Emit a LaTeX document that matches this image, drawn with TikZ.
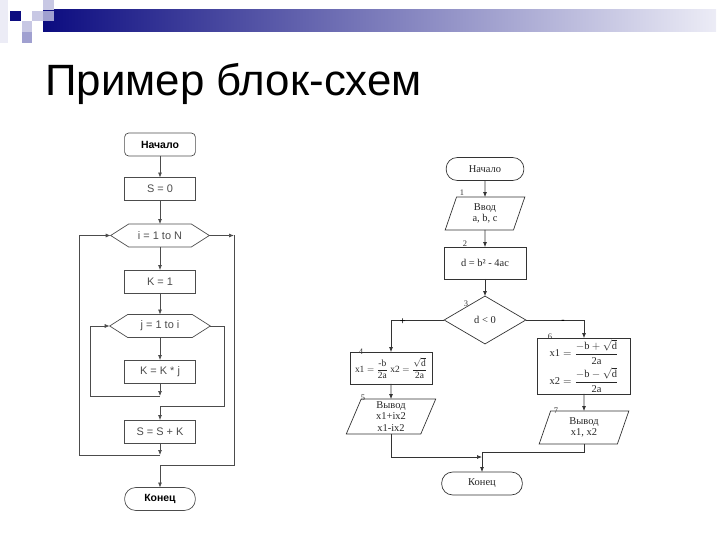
\documentclass[tikz,border=0pt]{standalone}
\usepackage{amsmath}
\usepackage{fontspec}
\setmainfont{Liberation Sans}
\newfontfamily\timesfont{Liberation Serif}
\usetikzlibrary{arrows.meta,shapes.geometric}

\definecolor{navy}{RGB}{12,12,128}
\definecolor{lavlight}{RGB}{200,200,228}
\definecolor{lavmid}{RGB}{160,160,208}
\definecolor{lavpale}{RGB}{236,236,246}

%hexagon drawn round a node
\newcommand{\hexframe}[1]{%
  \draw[line] (#1.west) -- ([xshift=18pt]#1.north west) -- ([xshift=-18pt]#1.north east)
   -- (#1.east) -- ([xshift=-18pt]#1.south east) -- ([xshift=18pt]#1.south west) -- cycle;}

\begin{document}
\begin{tikzpicture}[x=1bp,y=-1bp,
  line/.style={draw=black!70,line width=0.7pt},
  arr/.style={line,-{Latex[length=5pt,width=4pt]}},
  sbox/.style={line,minimum width=71,minimum height=23,inner sep=0pt,outer sep=0pt,
    font=\fontsize{11}{13}\selectfont,text=black!70},
  loopbox/.style={sbox,draw=none,minimum width=99},
  tbox/.style={line,draw=black!80,inner sep=0pt,outer sep=0pt,align=center,
    font=\timesfont\fontsize{10.5}{11.5}\selectfont,text=black!85},
  para/.style={tbox,trapezium,trapezium left angle=76,trapezium right angle=104,
    trapezium stretches=true},
  num/.style={font=\timesfont\fontsize{8.5}{8.5}\selectfont,text=black!80,inner sep=0pt}]
\useasboundingbox (0,0) rectangle (720,540);

%header
\shade[left color=navy,right color=lavpale] (43,10) rectangle (716,32);
\fill[lavpale] (0,0) rectangle (8,43);
\fill[navy] (10,11) rectangle (21,21);
\fill[lavlight] (32,11) rectangle (43,21);
\fill[lavmid] (43,11) rectangle (54,21);
\fill[lavlight] (43,0) rectangle (54,10);
\fill[lavlight] (22,21) rectangle (32,32);
\fill[lavmid] (22,32) rectangle (32,43);
\node[anchor=base west,inner sep=0pt,font=\fontsize{44}{52}\selectfont] (title) at (45,96) {Пример блок-схем};

%left chart
\node[sbox,rounded corners=4pt,font=\bfseries\fontsize{10.5}{12}\selectfont,text=black] (start1) at (160,144.5) {Начало};
\node[sbox] (s0) at (160,189) {S = 0};
\node[loopbox] (loopi) at (160,235.5) {i = 1 to N}; \hexframe{loopi}
\node[sbox] (k1) at (160,281.5) {K = 1};
\node[loopbox,minimum width=101] (loopj) at (160,326) {j = 1 to i}; \hexframe{loopj}
\node[sbox] (kmul) at (160,371.5) {K = K * j};
\node[sbox] (ssum) at (160,431.5) {S = S + K};
\node[sbox,rounded corners=11pt,font=\bfseries\fontsize{10.5}{12}\selectfont,text=black] (end1) at (160,499) {Конец};

\coordinate (jin) at (160,396);
\coordinate (jl) at (90,396);
\coordinate (jr) at (224,406);
\coordinate (iin) at (160,455);
\coordinate (il) at (79,455);
\coordinate (ir) at (234,235.5);
\coordinate (ie) at (234,465);

\draw[arr] (start1) -- (s0);
\draw[arr] (s0) -- (loopi);
\draw[arr] (loopi) -- (k1);
\draw[arr] (k1) -- (loopj);
\draw[arr] (loopj) -- (kmul);
\draw[arr] (kmul) -- (jin);
\draw[arr] (jin) -- (jl) |- (loopj.west);
\draw[arr] (loopj.east) -| (jr) -| (ssum.north);
\draw[arr] (ssum) -- (iin);
\draw[arr] (iin) -- (il) |- (loopi.west);
\draw[arr] (loopi.east) -- (ir);
\draw[arr] (ir) -- (ie) -| (end1.north);

%right chart
\node[tbox,rounded corners=11pt,minimum width=78,minimum height=23] (start2) at (485,169) {Начало};
\node[para,minimum width=80,minimum height=33] (in1) at (485,213.5) {Ввод\\a, b, c};
\node[tbox,minimum width=82,minimum height=32] (calc) at (485,263) {d = b² - 4ac};
\node[tbox,diamond,minimum width=82,minimum height=48] (cond) at (485,320) {d < 0};
\node[tbox,inner xsep=2pt,minimum width=82,minimum height=32,font=\timesfont\fontsize{9.5}{11}\selectfont] (b4) at (391,368)
  {$\text{x1}=\dfrac{\text{-b}}{\text{2a}}$\ $\text{x2}=\dfrac{\sqrt{\text{d}}}{\text{2a}}$};
\node[para,minimum width=90,minimum height=35] (b5) at (391,416.5) {Вывод\\x1+ix2\\x1-ix2};
\node[tbox,minimum width=93,minimum height=56] (b6) at (584,366)
  {$\text{x1}=\dfrac{-\text{b}+\sqrt{\text{d}}}{\text{2a}}$\\[2pt]
   $\text{x2}=\dfrac{-\text{b}-\sqrt{\text{d}}}{\text{2a}}$};
\node[para,minimum width=90,minimum height=33] (b7) at (584,427.5) {Вывод\\x1, x2};
\node[tbox,rounded corners=11pt,minimum width=81,minimum height=23] (end2) at (482,483.5) {Конец};

%numbers
\node[num] at (462,193) {1};
\node[num] at (465,244) {2};
\node[num] at (466,304) {3};
\node[num] at (361,352) {4};
\node[num] at (363,398) {5};
\node[num] at (550,337) {6};
\node[num] at (556,411) {7};

\coordinate (lj) at (482,457);
\coordinate (rj) at (482,452);

\draw[arr,draw=black!80] (start2) -- (in1);
\draw[arr,draw=black!80] (in1) -- (calc);
\draw[arr,draw=black!80] (calc) -- (cond);
\draw[arr,draw=black!80] (cond.west) -| node[pos=0.39,inner sep=0pt,yshift=-1.5,font=\fontsize{10}{10}\selectfont] {+} (b4.north);
\draw[arr,draw=black!80] (cond.east) -| node[pos=0.32,inner sep=0pt,yshift=-1.5,font=\bfseries\fontsize{10}{10}\selectfont] {-} (b6.north);
\draw[arr,draw=black!80] (b4) -- (b5);
\draw[arr,draw=black!80] (b6) -- (b7);
\draw[arr,draw=black!80] (b5.south) |- (lj);
\draw[arr,draw=black!80] (b7.south) |- (rj) -- (end2.north);
\end{tikzpicture}
\end{document}
